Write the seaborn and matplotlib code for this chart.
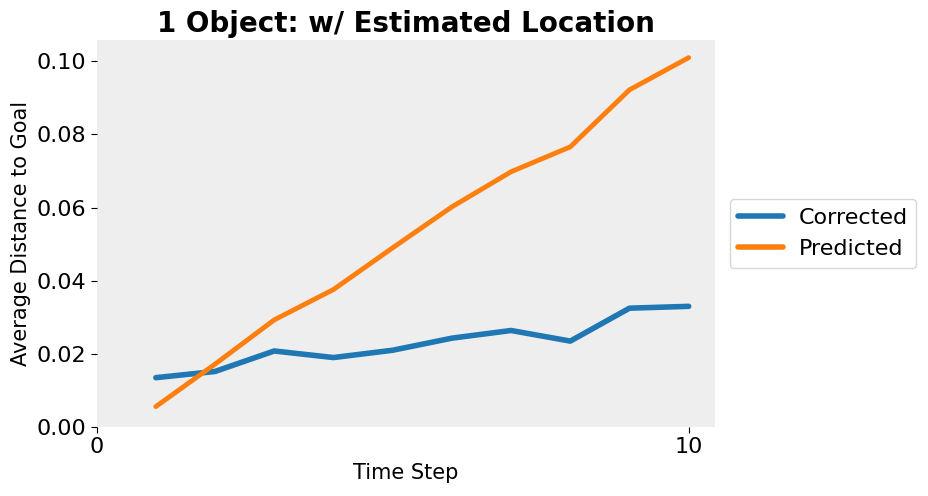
import matplotlib
matplotlib.use("Agg")
import matplotlib.pyplot as plt
import seaborn as sns
import pandas as pd

steps = [1, 2, 3, 4, 5, 6, 7, 8, 9, 10]
corrected = [0.0135, 0.0152, 0.0208, 0.0190, 0.0210, 0.0243, 0.0264, 0.0235, 0.0325, 0.0330]
predicted = [0.0056, 0.0172, 0.0293, 0.0376, 0.0490, 0.0602, 0.0698, 0.0766, 0.0922, 0.1010]
series_names = ["Corrected", "Predicted"]
title = "1 Object: w/ Estimated Location"
xlabel = "Time Step"
ylabel = "Average Distance to Goal"

df = pd.DataFrame({
    "step": steps * 2,
    "value": corrected + predicted,
    "series": [series_names[0]] * len(steps) + [series_names[1]] * len(steps),
})

sns.set_style("white")
plt.rcParams["font.family"] = ["DejaVu Sans"]
plt.rcParams["text.color"] = "black"
plt.rcParams["axes.labelcolor"] = "black"
plt.rcParams["xtick.color"] = "black"
plt.rcParams["ytick.color"] = "black"

fig = plt.figure(figsize=(9.29, 4.96), dpi=100)
ax = fig.add_axes([0.104, 0.139, 0.666, 0.780])
ax.set_facecolor("#EEEEEE")

sns.lineplot(data=df, x="step", y="value", hue="series",
             palette=["#1f77b4", "#ff7f0e"], linewidth=4, ax=ax)
ax.lines[1].set_linewidth(3.5)

for s in ax.spines.values():
    s.set_visible(False)

ax.set_xticks([0, 10])
ax.set_ylim(bottom=0)
ax.set_yticks([0.00, 0.02, 0.04, 0.06, 0.08, 0.10])
ax.set_yticklabels(["0.00", "0.02", "0.04", "0.06", "0.08", "0.10"])
ax.tick_params(axis="both", labelsize=16, left=True, bottom=True, length=4, width=0.8,
               color="black", labelcolor="black")
ax.set_xlabel(xlabel, fontsize=15, color="black")
ax.set_ylabel(ylabel, fontsize=15, color="black")
ax.set_title(title, fontsize=20, fontweight="bold", color="black")

leg = ax.legend(loc="center left", bbox_to_anchor=(1.005, 0.5), fontsize=16,
                frameon=True, title=None, handlelength=2.0, handletextpad=0.7)
for l in leg.get_lines():
    l.set_linewidth(4)
for t in leg.get_texts():
    t.set_color("black")

fig.savefig("out.png", dpi=100)
